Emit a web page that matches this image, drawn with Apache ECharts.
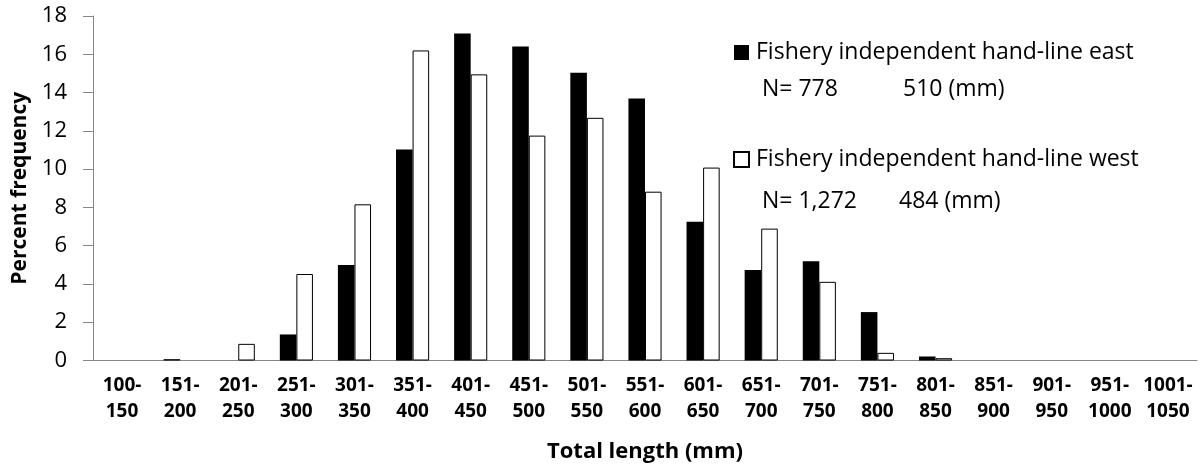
<!DOCTYPE html>
<html>
<head>
<meta charset="utf-8">
<script src="https://cdn.jsdelivr.net/npm/echarts@6/dist/echarts.min.js"></script>
<style>
    html, body { margin: 0; padding: 0; background: #fff; }
    #chart { width: 1202px; height: 468px; }
</style>
</head>
<body>
<div id="chart"></div>
<script>
// length classes (mm)
const lengthClasses = ['100-\n150', '151-\n200', '201-\n250', '251-\n300', '301-\n350', '351-\n400',
    '401-\n450', '451-\n500', '501-\n550', '551-\n600', '601-\n650', '651-\n700', '701-\n750',
    '751-\n800', '801-\n850', '851-\n900', '901-\n950', '951-\n1000', '1001-\n1050'];

// percent frequency
const eastValues = [0, 0.07, 0, 1.36, 4.99, 11.02, 17.09, 16.41, 15.03, 13.69, 7.25, 4.73, 5.18, 2.53, 0.21, 0, 0, 0, 0];
const westValues = [0, 0, 0.87, 4.52, 8.16, 16.2, 14.95, 11.75, 12.68, 8.82, 10.08, 6.89, 4.11, 0.40, 0.12, 0, 0, 0, 0];

const seriesNames = ['Fishery independent hand-line east', 'Fishery independent hand-line west'];
const sampleNotes = [['N= 778', '510 (mm)'], ['N= 1,272', '484 (mm)']];

const font = 'Open Sans';
const axisGrey = '#868686';

// empty classes draw nothing (a zero bar would still show its outline)
const barData = (values) => values.map(v => (v === 0 ? null : v));

const myChart = echarts.init(document.getElementById('chart'));

const noteFont = '23px "Open Sans"';

const option = {
    animation: false,
    backgroundColor: '#fff',
    textStyle: { fontFamily: font, color: '#000' },
    grid: { left: 93, right: 5, top: 16, bottom: 107.5 },
    legend: {
        orient: 'vertical',
        left: 733,
        top: 41,
        padding: 0,
        itemWidth: 15,
        itemHeight: 15,
        itemGap: 84,
        icon: 'rect',
        selectedMode: false,
        textStyle: { fontFamily: font, fontSize: 23, color: '#000', lineHeight: 16, padding: [0, 0, 0, 2] },
        data: seriesNames
    },
    xAxis: {
        type: 'category',
        data: lengthClasses,
        name: 'Total length (mm)',
        nameLocation: 'middle',
        nameGap: 80,
        nameTextStyle: { fontFamily: font, fontSize: 22, fontWeight: 'bold', color: '#000' },
        axisLine: { lineStyle: { color: axisGrey, width: 1 } },
        axisTick: { length: 8, lineStyle: { color: axisGrey } },
        axisLabel: { fontFamily: font, fontSize: 19, fontWeight: 'bold', color: '#000', lineHeight: 26, margin: 12, interval: 0 }
    },
    yAxis: {
        type: 'value',
        min: 0,
        max: 18,
        interval: 2,
        name: 'Percent frequency',
        nameLocation: 'middle',
        nameGap: 58,
        nameTextStyle: { fontFamily: font, fontSize: 21, fontWeight: 'bold', color: '#000' },
        splitLine: { show: false },
        axisLine: { show: true, lineStyle: { color: axisGrey, width: 1 } },
        axisTick: { show: true, length: 10, lineStyle: { color: axisGrey } },
        axisLabel: { fontFamily: font, fontSize: 22, color: '#000', margin: 26 }
    },
    series: [
        {
            name: seriesNames[0],
            type: 'bar',
            data: barData(eastValues),
            barGap: '0%',
            barCategoryGap: '43%',
            itemStyle: { color: '#000', borderColor: '#000', borderWidth: 0 }
        },
        {
            name: seriesNames[1],
            type: 'bar',
            data: barData(westValues),
            barGap: '0%',
            barCategoryGap: '43%',
            itemStyle: { color: '#fff', borderColor: '#000', borderWidth: 1 }
        }
    ],
    graphic: [
        { type: 'text', left: 762, top: 78, style: { text: sampleNotes[0][0], font: noteFont, fill: '#000' } },
        { type: 'text', left: 903, top: 78, style: { text: sampleNotes[0][1], font: noteFont, fill: '#000' } },
        { type: 'text', left: 762, top: 190, style: { text: sampleNotes[1][0], font: noteFont, fill: '#000' } },
        { type: 'text', left: 899, top: 190, style: { text: sampleNotes[1][1], font: noteFont, fill: '#000' } }
    ]
};

option && myChart.setOption(option);
</script>
</body>
</html>
